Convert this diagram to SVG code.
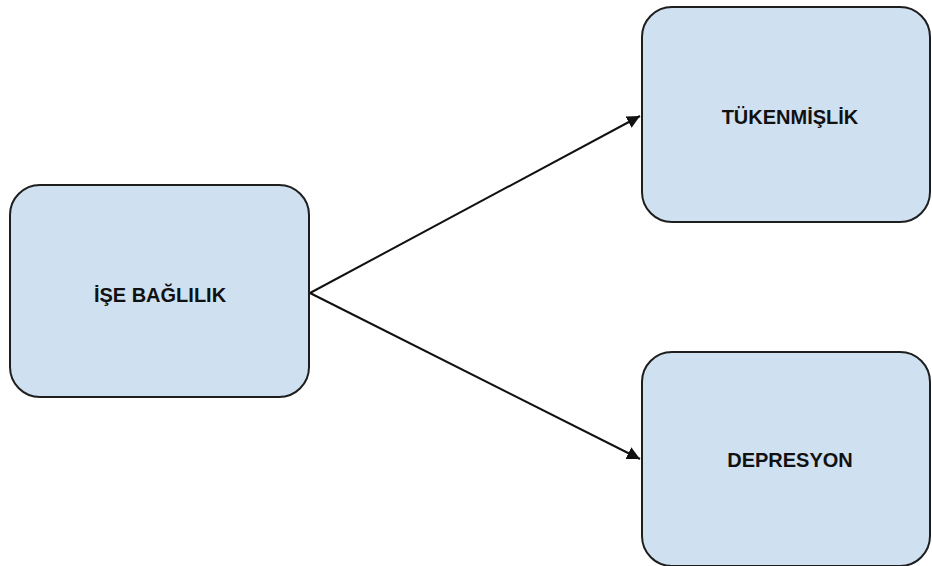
<svg xmlns="http://www.w3.org/2000/svg" width="932" height="566" viewBox="0 0 932 566">
<defs>
<style>
.box{fill:#cfe0f1;stroke:#1e1e1e;stroke-width:2}
.lbl{font-family:"Liberation Sans",Arial,sans-serif;font-weight:bold;font-size:20px;fill:#111;text-anchor:middle}
.edge{stroke:#111;stroke-width:2;fill:none}
</style>
<marker id="arr" viewBox="0 0 10 10" refX="10" refY="5" markerWidth="6.5" markerHeight="6.5" markerUnits="strokeWidth" orient="auto">
<path d="M0,0 L10,5 L0,10 z" fill="#111"/>
</marker>
</defs>
<rect width="932" height="566" fill="#fff"/>
<g id="connectors">
<line class="edge" x1="310" y1="293" x2="640" y2="116" marker-end="url(#arr)"/>
<line class="edge" x1="310" y1="293" x2="640" y2="459" marker-end="url(#arr)"/>
</g>
<g id="ise-baglilik">
<rect class="box" x="10" y="185" width="299" height="212" rx="30"/>
<text class="lbl" x="160" y="302">İŞE BAĞLILIK</text>
</g>
<g id="tukenmislik">
<rect class="box" x="642" y="7" width="288" height="215" rx="30"/>
<text class="lbl" x="790" y="124">TÜKENMİŞLİK</text>
</g>
<g id="depresyon">
<rect class="box" x="642" y="352" width="288" height="214" rx="30"/>
<text class="lbl" x="790" y="467">DEPRESYON</text>
</g>
</svg>
